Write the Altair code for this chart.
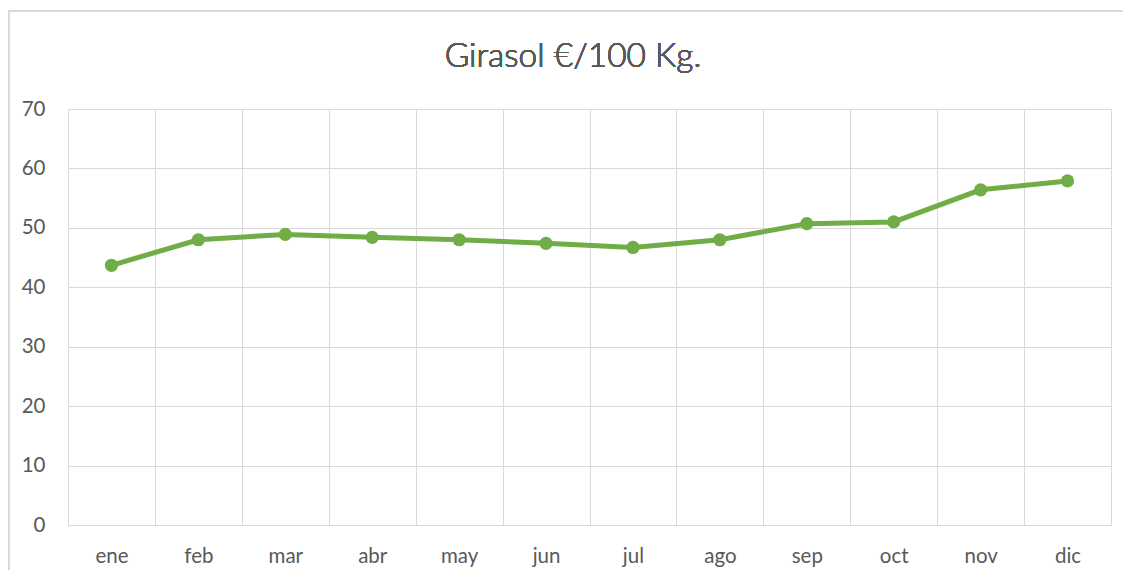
import altair as alt
import pandas as pd

months = ["ene", "feb", "mar", "abr", "may", "jun", "jul", "ago", "sep", "oct", "nov", "dic"]
prices = [43.7, 48.0, 48.9, 48.4, 48.0, 47.4, 46.7, 48.0, 50.7, 51.0, 56.4, 57.9]
title_text = "Girasol €/100 Kg."

df = pd.DataFrame({"mes": months, "precio": prices})

GREEN = "#70ad47"
GRID = "#d9d9d9"
TEXT = "#595959"
FONT = "Lato"

x_enc = alt.X(
    "mes:N",
    sort=months,
    scale=alt.Scale(type="band", paddingInner=0, paddingOuter=0),
    axis=alt.Axis(
        title=None,
        tickBand="extent",
        grid=True,
        gridColor=GRID,
        ticks=False,
        domain=False,
        labelAngle=0,
        labelFont=FONT,
        labelFontSize=20.5,
        labelFontWeight="normal",
        labelColor=TEXT,
        labelPadding=21,
    ),
)
y_enc = alt.Y(
    "precio:Q",
    scale=alt.Scale(domain=[0, 70]),
    axis=alt.Axis(
        title=None,
        values=[0, 10, 20, 30, 40, 50, 60, 70],
        grid=True,
        gridColor=GRID,
        ticks=False,
        domain=False,
        labelFont=FONT,
        labelFontSize=20.5,
        labelFontWeight="normal",
        labelColor=TEXT,
        labelPadding=23,
    ),
)

line = alt.Chart(df).mark_line(color=GREEN, strokeWidth=5).encode(x=x_enc, y=y_enc)
pts = alt.Chart(df).mark_circle(color=GREEN, size=175, opacity=1).encode(x=x_enc, y=y_enc)

border = alt.Chart(df).mark_rect(
    fill=None, stroke=GRID, strokeWidth=1.5, clip=False
).encode(
    x=alt.value(-59.5), x2=alt.value(1100), y=alt.value(-98), y2=alt.value(520)
)

title = alt.Chart(df).mark_text(
    font=FONT, fontSize=33.5, fontWeight=300, color=TEXT, align="center", baseline="alphabetic"
).encode(
    x=alt.value(505), y=alt.value(-42), text=alt.value(title_text)
)

chart = alt.layer(border, line, pts, title).properties(
    width=1043,
    height=416,
    autosize=alt.AutoSizeParams(type="none"),
    padding={"left": 60, "top": 101, "right": 12, "bottom": 45},
).configure_view(stroke=GRID, strokeWidth=1.5).configure(background="white")

chart.save("out.html", embed_options={"renderer": "svg", "actions": False})
